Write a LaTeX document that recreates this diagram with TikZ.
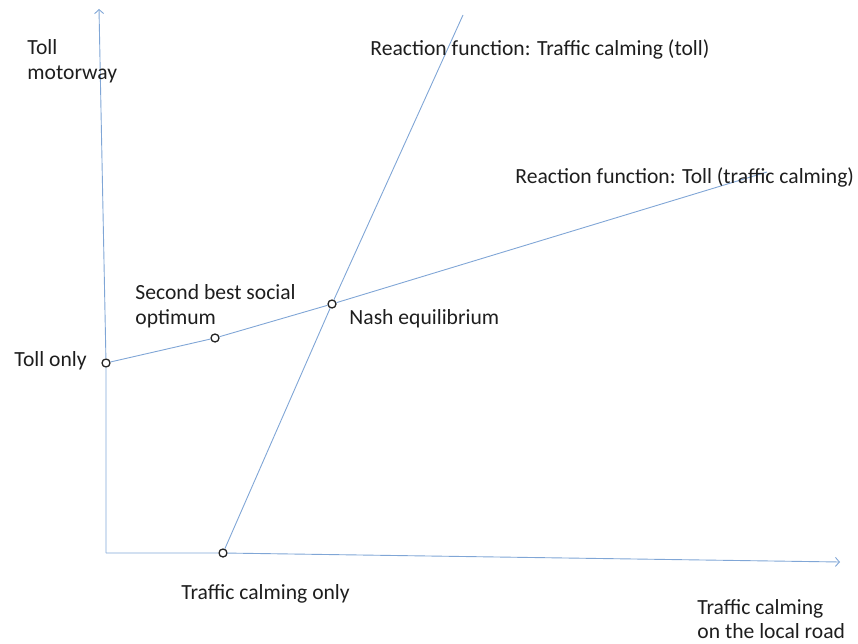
\documentclass[tikz,border=0pt]{standalone}
\usepackage{fontspec}
\setmainfont{Carlito}
\usetikzlibrary{positioning, calc, arrows.meta}
\definecolor{lineblue}{RGB}{128,166,214}
\definecolor{textgrey}{RGB}{30,30,30}

\begin{document}
\begin{tikzpicture}[x=1pt, y=-1pt, line width=0.9pt,
    curve/.style={draw=lineblue},
    axis/.style={draw=lineblue, -{Straight Barb[length=4pt,width=9pt]}},
    dot/.style={circle, draw=black!85, line width=1.3pt, inner sep=0pt, minimum size=8pt},
    lbl/.style={font=\fontsize{21.6}{24.5}\selectfont, text=textgrey, inner sep=0pt, align=left, anchor=west}]
    \useasboundingbox (0,0) rectangle (858,644);

    % Axes ends
    \coordinate (origin) at (106,553);
    \coordinate (ytop) at (99,9);
    \coordinate (xtip) at (840,562);

    % Points
    \node[dot] (toll) at (106,363) {};
    \node[dot] (second) at (215,338) {};
    \node[dot] (nash) at (332,304) {};
    \node[dot] (calm) at (223,553) {};

    % Free ends of the reaction functions
    \coordinate (tollend) at (767,172);
    \coordinate (calmend) at (463,15);

    % Axes
    \draw[axis] (origin) -- (toll) -- (ytop);
    \draw[axis] (origin) -- (calm) -- (xtip);

    % Reaction functions
    \draw[curve] (toll) -- (second) -- (nash) -- (tollend);
    \draw[curve] (calm) -- (nash) -- (calmend);

    % Labels
    \node[lbl] (ylab) at (27,61) {Toll\\motorway};
    \node[lbl] (xlab) at (697,619) {Traffic calming\\on the local road};
    \node[lbl] (calmrf) at (370,49) {Reaction function: Traffic calming (toll)};
    \node[lbl] (tollrf) at (515,177) {Reaction function: Toll (traffic calming)};
    \node[lbl] (secondlab) at (135,306) {Second best social\\optimum};
    \node[lbl] (nashlab) at (349,319) {Nash equilibrium};
    \node[lbl] (tollonly) at (14,361) {Toll only};
    \node[lbl] (calmonly) at (181,594) {Traffic calming only};
\end{tikzpicture}
\end{document}
